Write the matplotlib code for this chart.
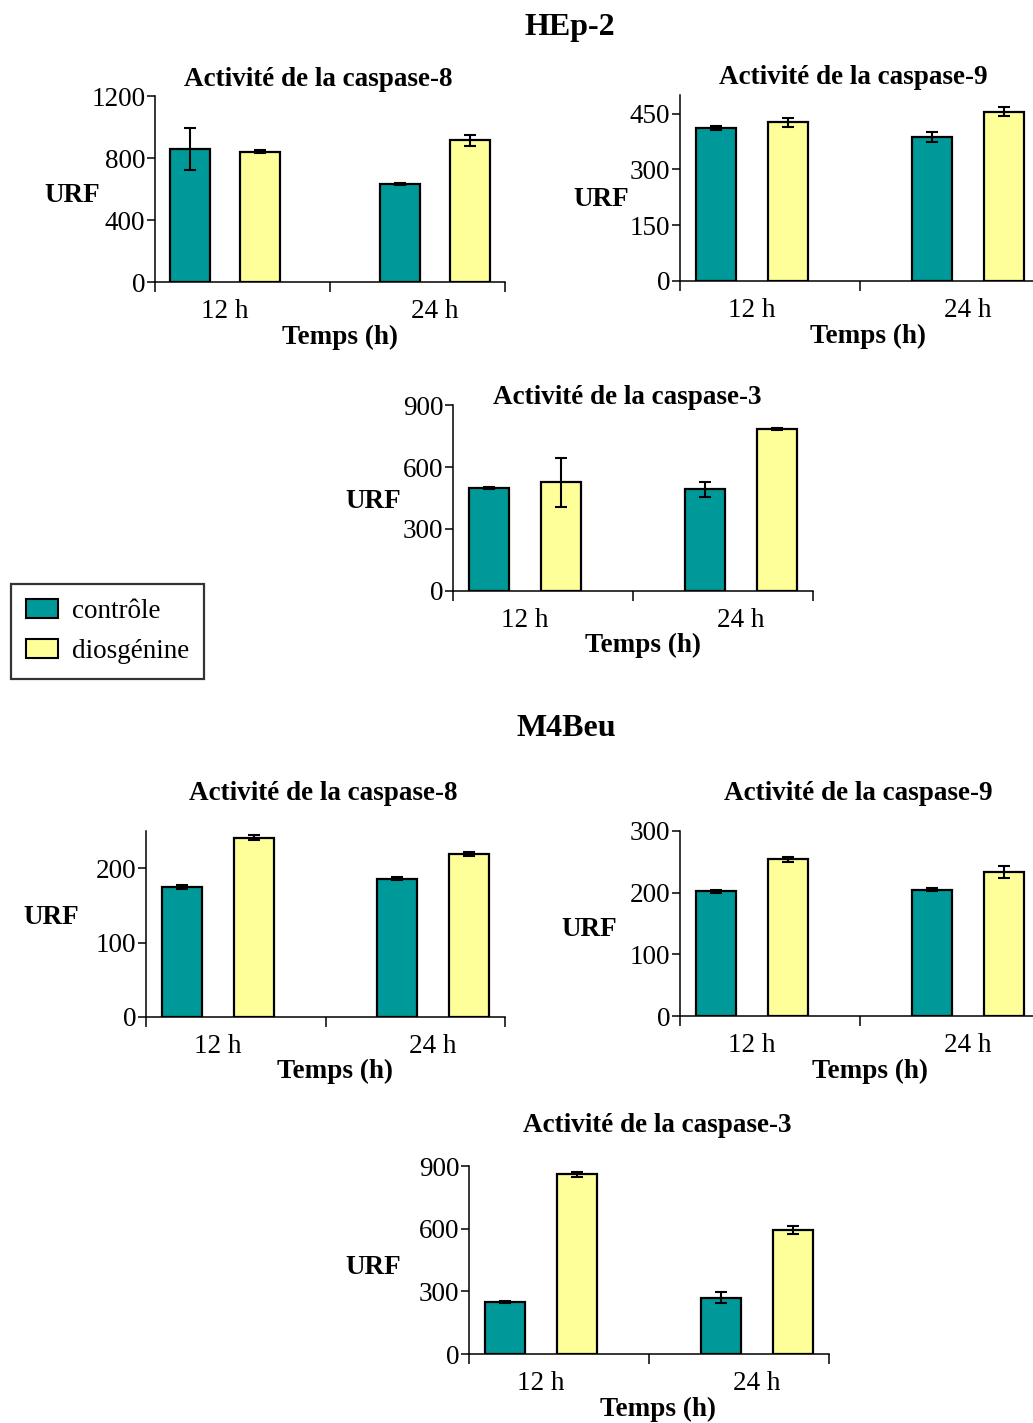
import matplotlib
matplotlib.use("Agg")
import matplotlib.pyplot as plt
from matplotlib.patches import Patch

plt.rcParams["font.family"] = ["Liberation Serif", "DejaVu Serif"]

W, H = 1033, 1423
DPI = 100

# ---- data -------------------------------------------------------------
times = ["12 h", "24 h"]
series = ["contrôle", "diosgénine"]

hep2_casp8_ctrl = [858, 632]
hep2_casp8_ctrl_err = [138, 5]
hep2_casp8_dios = [841, 914]
hep2_casp8_dios_err = [11, 34]

hep2_casp9_ctrl = [411, 387]
hep2_casp9_ctrl_err = [5, 13]
hep2_casp9_dios = [427, 455]
hep2_casp9_dios_err = [12, 12]

hep2_casp3_ctrl = [498, 492]
hep2_casp3_ctrl_err = [3, 35]
hep2_casp3_dios = [526, 784]
hep2_casp3_dios_err = [118, 5]

m4beu_casp8_ctrl = [175, 186]
m4beu_casp8_ctrl_err = [3, 2]
m4beu_casp8_dios = [241, 219]
m4beu_casp8_dios_err = [3, 3]

m4beu_casp9_ctrl = [202, 205]
m4beu_casp9_ctrl_err = [2, 2]
m4beu_casp9_dios = [254, 233]
m4beu_casp9_dios_err = [4, 10]

m4beu_casp3_ctrl = [250, 269]
m4beu_casp3_ctrl_err = [6, 27]
m4beu_casp3_dios = [860, 594]
m4beu_casp3_dios_err = [12, 21]

ticks_c8_hep2 = [0, 400, 800, 1200]
ticks_c9_hep2 = [0, 150, 300, 450]
ticks_c3_hep2 = [0, 300, 600, 900]
ticks_c8_m4 = [0, 100, 200]
ticks_c9_m4 = [0, 100, 200, 300]
ticks_c3_m4 = [0, 300, 600, 900]

TEAL = "#009999"
YELLOW = "#FFFF99"
FS = 19.5

fig = plt.figure(figsize=(W / DPI, H / DPI), dpi=DPI)


def fx(x):
    return x / W


def fy(y):
    return 1 - y / H


def add_panel(box, ymax, yticks, ctrl, ctrl_err, dios, dios_err,
              title_xy, urf_xy, temps_xy, title="Activité de la caspase-8"):
    x0, yt, x1, yb = box
    ax = fig.add_axes([fx(x0), fy(yb), (x1 - x0) / W, (yb - yt) / H])
    centers = [0.4, 1.6]
    ekw = dict(ecolor="black", elinewidth=1.5, capsize=4.5, capthick=1.5)
    ax.bar([c - 0.2 for c in centers], ctrl, width=0.225, color=TEAL,
           edgecolor="black", linewidth=1.6, yerr=ctrl_err, error_kw=ekw,
           zorder=2)
    ax.bar([c + 0.2 for c in centers], dios, width=0.225, color=YELLOW,
           edgecolor="black", linewidth=1.6, yerr=dios_err, error_kw=ekw,
           zorder=2)
    ax.set_xlim(0, 2)
    ax.set_ylim(0, ymax)
    ax.set_yticks(yticks)
    ax.set_xticks(centers, times)
    ax.set_xticks([0, 1, 2], minor=True)
    ax.tick_params(axis="x", which="major", length=0, pad=12, labelsize=FS)
    ax.tick_params(axis="x", which="minor", length=7, width=1.1,
                   direction="out")
    ax.tick_params(axis="y", length=6, width=1.1, pad=1, labelsize=FS)
    for s in ("top", "right"):
        ax.spines[s].set_visible(False)
    for s in ("left", "bottom"):
        ax.spines[s].set_linewidth(1.1)
    fig.text(fx(title_xy[0]), fy(title_xy[1]), title, ha="center",
             va="center", fontsize=FS, fontweight="bold")
    fig.text(fx(urf_xy[0]), fy(urf_xy[1]), "URF", ha="center",
             va="center", fontsize=FS, fontweight="bold")
    fig.text(fx(temps_xy[0]), fy(temps_xy[1]), "Temps (h)", ha="center",
             va="center", fontsize=FS, fontweight="bold")
    return ax


# ---- HEp-2 -------------------------------------------------------------
fig.text(fx(570), fy(28), "HEp-2", ha="center", va="center",
         fontsize=23, fontweight="bold")
add_panel((155, 96, 505, 282), 1200, ticks_c8_hep2,
          hep2_casp8_ctrl, hep2_casp8_ctrl_err,
          hep2_casp8_dios, hep2_casp8_dios_err,
          (318, 79), (72, 195), (340, 337), "Activité de la caspase-8")
add_panel((680, 95, 1040, 281), 500, ticks_c9_hep2,
          hep2_casp9_ctrl, hep2_casp9_ctrl_err,
          hep2_casp9_dios, hep2_casp9_dios_err,
          (853, 78), (601, 200), (868, 336), "Activité de la caspase-9")
add_panel((453, 405, 813, 591), 900, ticks_c3_hep2,
          hep2_casp3_ctrl, hep2_casp3_ctrl_err,
          hep2_casp3_dios, hep2_casp3_dios_err,
          (627, 397), (373, 501), (643, 645), "Activité de la caspase-3")

# ---- M4Beu -------------------------------------------------------------
fig.text(fx(566), fy(729), "M4Beu", ha="center", va="center",
         fontsize=23, fontweight="bold")
add_panel((146, 831, 505, 1017), 250, ticks_c8_m4,
          m4beu_casp8_ctrl, m4beu_casp8_ctrl_err,
          m4beu_casp8_dios, m4beu_casp8_dios_err,
          (323, 793), (51, 918), (335, 1071), "Activité de la caspase-8")
add_panel((680, 831, 1040, 1016), 300, ticks_c9_m4,
          m4beu_casp9_ctrl, m4beu_casp9_ctrl_err,
          m4beu_casp9_dios, m4beu_casp9_dios_err,
          (858, 793), (589, 930), (870, 1071), "Activité de la caspase-9")
add_panel((469, 1166, 829, 1354), 900, ticks_c3_m4,
          m4beu_casp3_ctrl, m4beu_casp3_ctrl_err,
          m4beu_casp3_dios, m4beu_casp3_dios_err,
          (657, 1125), (373, 1268), (658, 1409), "Activité de la caspase-3")

# ---- legend ------------------------------------------------------------
handles = [Patch(facecolor=TEAL, edgecolor="black", linewidth=1.5),
           Patch(facecolor=YELLOW, edgecolor="black", linewidth=1.5)]
leg = fig.legend(handles, series, loc="upper left",
                 bbox_to_anchor=(fx(11), fy(584)), fontsize=FS,
                 frameon=True, fancybox=False, shadow=False,
                 handlelength=1.2, handleheight=0.72, handletextpad=0.5,
                 labelspacing=0.55, borderpad=0.55, borderaxespad=0)
leg.get_frame().set_edgecolor("black")
leg.get_frame().set_linewidth(1.6)

fig.savefig("out.png", dpi=DPI)
